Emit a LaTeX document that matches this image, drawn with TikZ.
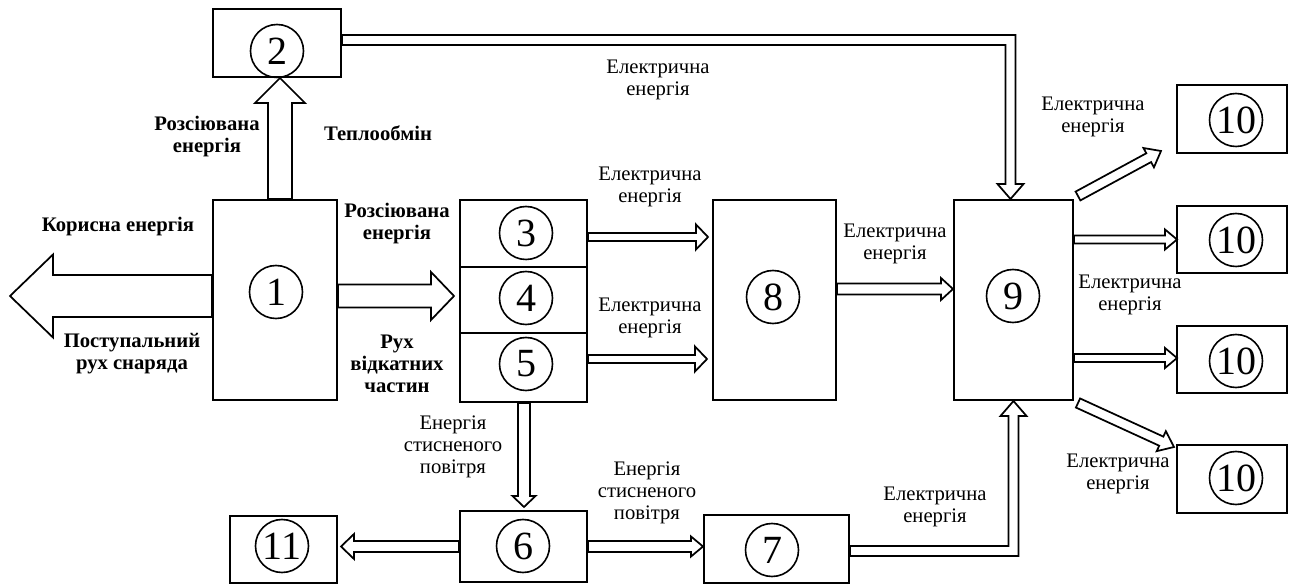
\documentclass[tikz,border=0pt]{standalone}
\usepackage{fontspec}
\setmainfont{Liberation Serif}
\usetikzlibrary{calc}
\tikzset{
 box/.style 2 args={draw, line width=1.5pt, minimum width=#1*0.75pt, minimum height=#2*0.75pt, inner sep=0pt},
 num/.style={draw, circle, line width=1.2pt, minimum size=53*0.75pt, inner sep=0pt, font=\fontsize{30}{30}\selectfont},
 lbl/.style={align=center, inner sep=0pt, font=\fontsize{15.5}{16.5}\selectfont},
 blbl/.style={align=center, inner sep=0pt, font=\fontsize{15.5}{16.5}\selectfont\bfseries},
 arr/.style={draw, fill=white, line width=1.3pt, line join=miter},
}
% straight block arrow: tail, tip, shaft width, head width, head length (px)
\newcommand{\blk}[5]{%
 \coordinate (as) at (#1); \coordinate (at) at (#2);
 \coordinate (ab) at ($(at)!#5*0.75pt!(as)$);
 \filldraw[arr] ($(as)!#3*0.375pt!90:(at)$) -- ($(ab)!#3*0.375pt!90:(at)$) -- ($(ab)!#4*0.375pt!90:(at)$) -- (at) -- ($(ab)!#4*0.375pt!-90:(at)$) -- ($(ab)!#3*0.375pt!-90:(at)$) -- ($(as)!#3*0.375pt!-90:(at)$) -- cycle;}
\begin{document}
\begin{tikzpicture}[x=0.75pt,y=-0.75pt]
\useasboundingbox (0,0) rectangle (1290,584);
% boxes
\node[box={124}{200}] (b1) at (275,300) {};
\node[box={128}{68}] (b2) at (277,43) {};
\node[box={127}{67}] (b3) at (523.5,233.5) {};
\node[box={127}{66}] (b4) at (523.5,300) {};
\node[box={127}{69}] (b5) at (523.5,367.5) {};
\node[box={123}{200}] (b8) at (774.5,300) {};
\node[box={119}{200}] (b9) at (1013.5,300) {};
\node[box={110}{68}] (b10a) at (1232,119) {};
\node[box={110}{67}] (b10b) at (1232,239.5) {};
\node[box={110}{67}] (b10c) at (1232,359.5) {};
\node[box={110}{68}] (b10d) at (1232,479) {};
\node[box={127}{71}] (b6) at (523.5,546.5) {};
\node[box={145}{68}] (b7) at (776.5,549) {};
\node[box={107}{67}] (b11) at (283.5,549.5) {};
% numbers
\node[num] (c1) at (276,292) {1};
\node[num] (c2) at (277,51) {2};
\node[num] (c3) at (526,233) {3};
\node[num] (c4) at (526,298) {4};
\node[num] (c5) at (526,364) {5};
\node[num] (c8) at (773,297) {8};
\node[num] (c9) at (1013,296) {9};
\node[num] (c10a) at (1236,120) {10};
\node[num] (c10b) at (1236,240) {10};
\node[num] (c10c) at (1236,361) {10};
\node[num] (c10d) at (1236,478) {10};
\node[num] (c6) at (523,546) {6};
\node[num] (c7) at (772,550) {7};
\node[num] (c11) at (282,546) {11};
% free end
\coordinate (kor) at (10,296);
% arrows
\blk{$(b1.west)+(0,-4)$}{kor}{42}{83}{43}
\blk{$(b1.north)+(5,0)$}{$(b2.south)+(3,0)$}{24}{50}{25}
\blk{$(b1.east)+(0,-4)$}{$(b4.west)+(-5,-4)$}{23}{48}{23}
\blk{$(b3.east)+(0,3.5)$}{$(b8.west|-b3.east)+(-4,3.5)$}{8}{25}{12}
\blk{$(b5.east)+(0,-8.5)$}{$(b8.west|-b5.east)+(-5,-8.5)$}{8}{25}{12}
\blk{$(b8.east)+(0,-11)$}{$(b9.west)+(0,-11)$}{11}{22}{12}
\blk{b9.east|-b10b.west}{$(b10b.west)+(1,0)$}{8}{20}{12}
\blk{$(b9.east|-b10c.west)+(0,-1.5)$}{$(b10c.west)+(1,-1.5)$}{8}{20}{12}
\blk{$(b9.north east)+(4,-3)$}{$(b10a.south west)+(-15,-3)$}{10}{22}{14}
\blk{$(b9.south east)+(4,2)$}{$(b10d.west)+(-2,-32)$}{10}{22}{14}
\blk{$(b5.south)+(0.5,0)$}{$(b6.north)+(0.5,-3)$}{12}{23}{11}
\blk{b6.west}{$(b11.east|-b6.west)+(3,0)$}{11}{25}{13}
\blk{b6.east}{b7.west|-b6.east}{11}{20}{12}
% bent arrow 2 -> 9
\coordinate (p2s) at ($(b2.east)+(0,-3)$);
\coordinate (p9t) at ($(b9.north)+(-3,0)$);
\coordinate (p29c) at (p9t|-p2s);
\filldraw[arr] ($(p2s)+(0,-5)$) -- ($(p29c)+(5,-5)$) -- ($(p9t)+(5,-15)$) -- ($(p9t)+(13,-15)$) -- (p9t) -- ($(p9t)+(-13,-15)$) -- ($(p9t)+(-5,-15)$) -- ($(p29c)+(-5,5)$) -- ($(p2s)+(0,5)$) -- cycle;
% bent arrow 7 -> 9
\coordinate (p7s) at ($(b7.east)+(0,2)$);
\coordinate (p9b) at (b9.south);
\coordinate (p79c) at (p9b|-p7s);
\filldraw[arr] ($(p7s)+(0,-5)$) -- ($(p79c)+(-5,-5)$) -- ($(p9b)+(-5,15)$) -- ($(p9b)+(-13,15)$) -- (p9b) -- ($(p9b)+(13,15)$) -- ($(p9b)+(5,15)$) -- ($(p79c)+(5,5)$) -- ($(p7s)+(0,5)$) -- cycle;
% labels
\node[blbl] (l1) at (207,137) {Розсіювана\\енергія};
\node[blbl] (l2) at (378,133) {Теплообмін};
\node[blbl] (l3) at (118,227) {Корисна енергія};
\node[blbl] (l4) at (132,354) {Поступальний\\рух снаряда};
\node[blbl] (l5) at (397,224) {Розсіювана\\енергія};
\node[blbl] (l6) at (397,364) {Рух\\відкатних\\частин};
\node[lbl] (e1) at (658,80) {Електрична\\енергія};
\node[lbl] (e2) at (650,187) {Електрична\\енергія};
\node[lbl] (e3) at (650,318) {Електрична\\енергія};
\node[lbl] (e4) at (895,244) {Електрична\\енергія};
\node[lbl] (e5) at (1093,117) {Електрична\\енергія};
\node[lbl] (e6) at (1130,295) {Електрична\\енергія};
\node[lbl] (e7) at (1118,474) {Електрична\\енергія};
\node[lbl] (e8) at (935,507) {Електрична\\енергія};
\node[lbl] (s1) at (453,447) {Енергія\\стисненого\\повітря};
\node[lbl] (s2) at (647,493) {Енергія\\стисненого\\повітря};
\end{tikzpicture}
\end{document}
